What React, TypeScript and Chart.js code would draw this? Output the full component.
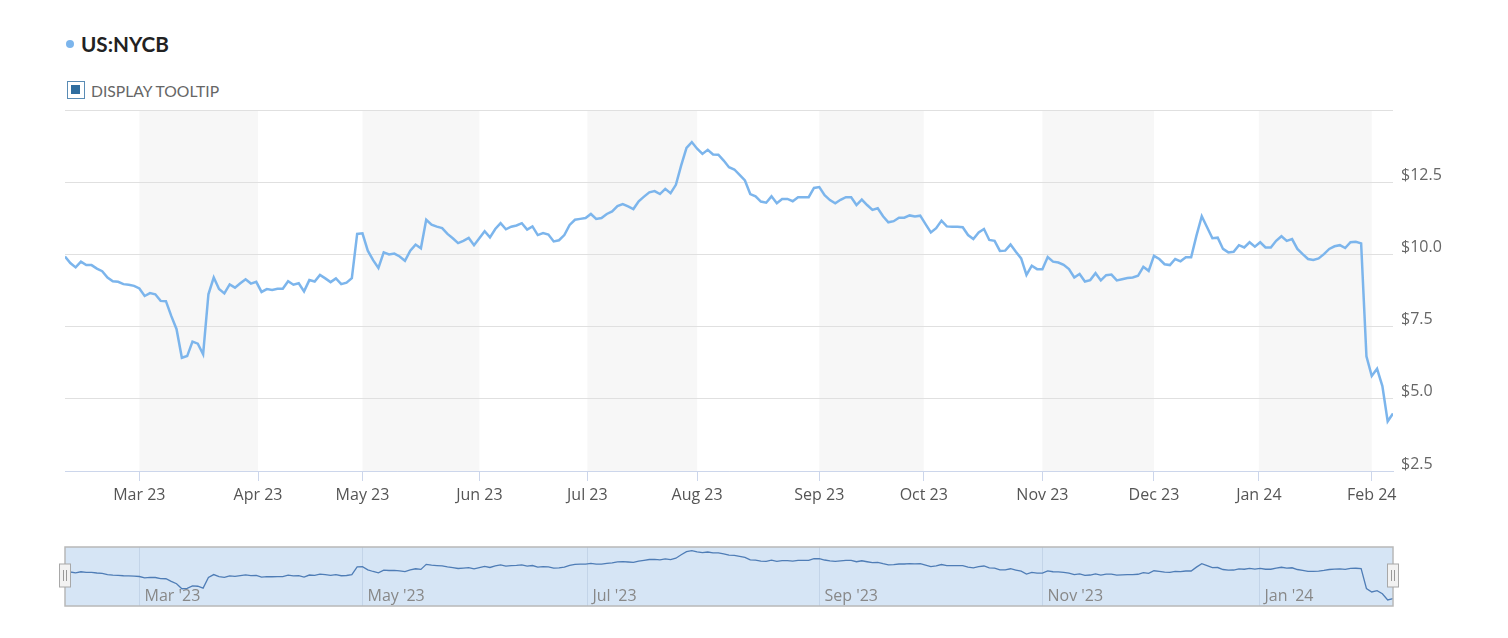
import React, { useEffect, useRef } from 'react';
import { Chart, registerables } from 'chart.js';

Chart.register(...registerables);

// ---- categories: NYSE trading days shown in the chart ----
const START_DATE = '2023-02-08';
const END_DATE = '2024-02-07';
const MARKET_HOLIDAYS = [
  '2023-02-20', '2023-04-07', '2023-05-29', '2023-06-19', '2023-07-04',
  '2023-09-04', '2023-11-23', '2023-12-25', '2024-01-01', '2024-01-15',
];

// ---- series values: US:NYCB daily close (one per trading day) ----
const closePrices = [
  9.93, 9.70, 9.55, 9.75, 9.63, 9.63, 9.51, 9.42, 9.20, 9.07,
  9.05, 8.97, 8.95, 8.91, 8.82, 8.56, 8.66, 8.62, 8.39, 8.38,
  7.87, 7.41, 6.42, 6.48, 6.98, 6.91, 6.54, 8.62, 9.20, 8.80,
  8.65, 8.96, 8.85, 9.00, 9.14, 8.99, 9.05, 8.70, 8.80, 8.77,
  8.81, 8.81, 9.07, 8.95, 9.00, 8.72, 9.11, 9.06, 9.29, 9.17,
  9.04, 9.17, 8.97, 9.02, 9.18, 10.71, 10.73, 10.13, 9.80, 9.53,
  10.07, 10.00, 10.03, 9.93, 9.78, 10.13, 10.34, 10.21, 11.20, 11.03,
  10.96, 10.91, 10.71, 10.56, 10.39, 10.47, 10.57, 10.32, 10.56, 10.80,
  10.59, 10.88, 11.08, 10.87, 10.96, 11.00, 11.08, 10.86, 10.97, 10.67,
  10.74, 10.69, 10.45, 10.49, 10.67, 11.02, 11.20, 11.23, 11.26, 11.40,
  11.23, 11.26, 11.40, 11.49, 11.67, 11.74, 11.66, 11.57, 11.84, 12.00,
  12.15, 12.19, 12.09, 12.27, 12.12, 12.41, 13.08, 13.69, 13.89, 13.66,
  13.48, 13.62, 13.46, 13.45, 13.25, 13.02, 12.94, 12.75, 12.56, 12.09,
  12.01, 11.83, 11.79, 12.01, 11.77, 11.92, 11.92, 11.84, 11.98, 11.98,
  11.98, 12.30, 12.33, 12.05, 11.88, 11.77, 11.89, 11.98, 11.98, 11.71,
  11.90, 11.71, 11.54, 11.60, 11.32, 11.11, 11.15, 11.27, 11.27, 11.35,
  11.31, 11.34, 11.05, 10.76, 10.91, 11.17, 10.97, 10.96, 10.96, 10.94,
  10.67, 10.53, 10.76, 10.88, 10.50, 10.47, 10.12, 10.13, 10.34, 10.09,
  9.86, 9.29, 9.61, 9.49, 9.49, 9.91, 9.75, 9.72, 9.64, 9.49,
  9.20, 9.32, 9.06, 9.11, 9.35, 9.10, 9.28, 9.30, 9.10, 9.14,
  9.18, 9.20, 9.26, 9.57, 9.43, 9.95, 9.84, 9.66, 9.63, 9.84,
  9.76, 9.90, 9.90, 10.65, 11.32, 10.94, 10.56, 10.58, 10.19, 10.07,
  10.09, 10.32, 10.24, 10.42, 10.27, 10.42, 10.24, 10.24, 10.47, 10.63,
  10.47, 10.53, 10.19, 10.01, 9.84, 9.81, 9.86, 10.01, 10.19, 10.28,
  10.32, 10.22, 10.42, 10.44, 10.38, 6.47, 5.79, 6.04, 5.44, 4.22,
  4.49,
];

// ---- tick labels ----
const monthTickDates = [
  '2023-03-01', '2023-04-01', '2023-05-01', '2023-06-01', '2023-07-01', '2023-08-01',
  '2023-09-01', '2023-10-01', '2023-11-01', '2023-12-01', '2024-01-01', '2024-02-01',
];
const monthTickLabels = [
  'Mar 23', 'Apr 23', 'May 23', 'Jun 23', 'Jul 23', 'Aug 23',
  'Sep 23', 'Oct 23', 'Nov 23', 'Dec 23', 'Jan 24', 'Feb 24',
];
const navTickDates = ['2023-03-01', '2023-05-01', '2023-07-01', '2023-09-01', '2023-11-01', '2024-01-01'];
const navTickLabels = ["Mar '23", "May '23", "Jul '23", "Sep '23", "Nov '23", "Jan '24"];
const yTickValues = [2.5, 5, 7.5, 10, 12.5, 15];

// ---- helpers ----
const dayNum = (iso: string) => Date.parse(iso + 'T00:00:00Z') / 86400000;

function buildTradingDays(): string[] {
  const out: string[] = [];
  const end = dayNum(END_DATE);
  for (let d = dayNum(START_DATE); d <= end; d++) {
    const date = new Date(d * 86400000);
    const wd = date.getUTCDay();
    const iso = date.toISOString().slice(0, 10);
    if (wd !== 0 && wd !== 6 && !MARKET_HOLIDAYS.includes(iso)) out.push(iso);
  }
  return out;
}

// ordinal (trading-day) position of a calendar date
function ordinalPos(days: string[], iso: string): number {
  const t = dayNum(iso);
  for (let i = 0; i < days.length; i++) {
    const di = dayNum(days[i]);
    if (di === t) return i;
    if (di > t) {
      if (i === 0) return 0;
      const p = dayNum(days[i - 1]);
      return i - 1 + (t - p) / (di - p);
    }
  }
  return days.length - 1;
}

const FONT = "'Open Sans', 'DejaVu Sans', sans-serif";
const LINE_COLOR = '#7cb5ec';

export default function App() {
  const mainRef = useRef<HTMLCanvasElement | null>(null);
  const navRef = useRef<HTMLCanvasElement | null>(null);

  useEffect(() => {
    const days = buildTradingDays();
    const n = Math.min(days.length, closePrices.length);
    const points = closePrices.slice(0, n).map((v, i) => ({ x: i, y: v }));
    const monthPos = monthTickDates.map((d) => ordinalPos(days, d));
    const navPos = navTickDates.map((d) => ordinalPos(days, d));

    const bandsPlugin = {
      id: 'bands',
      beforeDraw(chart: any) {
        const { ctx, chartArea: a, scales } = chart;
        const x = scales.x;
        ctx.save();
        ctx.fillStyle = '#f7f7f7';
        for (let k = 0; k + 1 < monthPos.length; k += 2) {
          const x0 = x.getPixelForValue(monthPos[k]);
          const x1 = x.getPixelForValue(monthPos[k + 1]);
          ctx.fillRect(x0, a.top, x1 - x0, a.bottom - a.top);
        }
        ctx.restore();
      },
    };

    const main = new Chart(mainRef.current as HTMLCanvasElement, {
      type: 'line',
      data: {
        datasets: [
          {
            data: points,
            borderColor: LINE_COLOR,
            borderWidth: 2.5,
            pointRadius: 0,
            tension: 0,
            fill: false,
          },
        ],
      },
      options: {
        animation: false,
        responsive: false,
        maintainAspectRatio: false,
        layout: { padding: { left: 65, top: 110, right: 0, bottom: 9 } },
        plugins: { legend: { display: false }, tooltip: { enabled: false } },
        scales: {
          x: {
            type: 'linear',
            min: 0,
            max: n - 1,
            afterBuildTicks: (s: any) => {
              s.ticks = monthPos.map((p) => ({ value: p }));
            },
            afterFit: (s: any) => {
              s.height = 40;
            },
            grid: { drawOnChartArea: false, drawTicks: true, tickLength: 10, color: '#ccd6eb' },
            border: { display: true, color: '#ccd6eb' },
            ticks: {
              autoSkip: false,
              maxRotation: 0,
              padding: 5,
              color: '#555',
              font: { family: FONT, size: 16 },
              callback: (_v: any, idx: number) => monthTickLabels[idx],
            },
          },
          y: {
            position: 'right',
            min: 2.5,
            max: 15,
            afterBuildTicks: (s: any) => {
              s.ticks = yTickValues.map((v) => ({ value: v }));
            },
            afterFit: (s: any) => {
              s.width = 115;
            },
            grid: { color: '#e0e0e0', drawTicks: false },
            border: { display: false },
            ticks: {
              padding: 8,
              labelOffset: -7,
              color: '#666',
              font: { family: FONT, size: 16 },
              callback: (v: any) => (v === 15 ? '' : '$' + Number(v).toFixed(1)),
            },
          },
        },
      } as any,
      plugins: [bandsPlugin],
    });

    const navPlugin = {
      id: 'navigator',
      beforeDatasetsDraw(chart: any) {
        const { ctx, chartArea: a, scales } = chart;
        const x = scales.x;
        ctx.save();
        ctx.fillStyle = '#d6e5f5';
        ctx.fillRect(a.left, a.top, a.right - a.left, a.bottom - a.top);
        ctx.strokeStyle = '#c3d4e8';
        ctx.lineWidth = 1;
        ctx.fillStyle = '#888';
        ctx.font = `16px ${FONT}`;
        ctx.textBaseline = 'middle';
        ctx.textAlign = 'left';
        navPos.forEach((p, i) => {
          const px = Math.round(x.getPixelForValue(p)) + 0.5;
          ctx.beginPath();
          ctx.moveTo(px, a.top);
          ctx.lineTo(px, a.bottom);
          ctx.stroke();
          ctx.fillText(navTickLabels[i], px + 5, a.bottom - 10);
        });
        ctx.restore();
      },
      afterDatasetsDraw(chart: any) {
        const { ctx, chartArea: a } = chart;
        ctx.save();
        ctx.strokeStyle = '#b8b8b8';
        ctx.lineWidth = 1.5;
        ctx.strokeRect(a.left, a.top, a.right - a.left, a.bottom - a.top);
        const hy0 = a.top + 17;
        const hh = 23;
        [a.left, a.right].forEach((cx) => {
          ctx.fillStyle = '#f2f2f2';
          ctx.strokeStyle = '#a8a8a8';
          ctx.lineWidth = 1;
          ctx.fillRect(cx - 5.5, hy0, 11, hh);
          ctx.strokeRect(cx - 5.5, hy0, 11, hh);
          ctx.strokeStyle = '#999';
          ctx.beginPath();
          ctx.moveTo(cx - 1.5, hy0 + 6);
          ctx.lineTo(cx - 1.5, hy0 + hh - 6);
          ctx.moveTo(cx + 1.5, hy0 + 6);
          ctx.lineTo(cx + 1.5, hy0 + hh - 6);
          ctx.stroke();
        });
        ctx.restore();
      },
    };

    const nav = new Chart(navRef.current as HTMLCanvasElement, {
      type: 'line',
      data: {
        datasets: [
          {
            data: points,
            borderColor: '#4f7db6',
            borderWidth: 1.3,
            pointRadius: 0,
            tension: 0,
            fill: false,
          },
        ],
      },
      options: {
        animation: false,
        responsive: false,
        maintainAspectRatio: false,
        layout: { padding: { left: 65, right: 115, top: 7, bottom: 14 } },
        plugins: { legend: { display: false }, tooltip: { enabled: false } },
        scales: {
          x: { type: 'linear', min: 0, max: n - 1, display: false },
          y: { min: 3.04, max: 14.6, display: false },
        },
      } as any,
      plugins: [navPlugin],
    });

    return () => {
      main.destroy();
      nav.destroy();
    };
  }, []);

  return (
    <div
      style={{
        position: 'fixed',
        left: 0,
        top: 0,
        width: 1508,
        height: 638,
        background: '#fff',
        overflow: 'hidden',
      }}
    >
      <div
        style={{
          position: 'absolute',
          left: 66,
          top: 40,
          width: 8,
          height: 8,
          borderRadius: '50%',
          background: LINE_COLOR,
        }}
      />
      <div
        style={{
          position: 'absolute',
          left: 81,
          top: 34,
          fontFamily: 'Lato, sans-serif',
          fontWeight: 700,
          fontSize: 20.7,
          lineHeight: '20px',
          color: '#222',
          whiteSpace: 'nowrap',
        }}
      >
        US:NYCB
      </div>
      <div
        style={{
          position: 'absolute',
          left: 67,
          top: 81,
          width: 18,
          height: 18,
          boxSizing: 'border-box',
          border: '1.5px solid #5a8cb5',
          background: '#fff',
        }}
      >
        <div
          style={{
            position: 'absolute',
            left: 3,
            top: 3,
            width: 9,
            height: 9,
            background: '#2f6d9f',
          }}
        />
      </div>
      <div
        style={{
          position: 'absolute',
          left: 91,
          top: 82,
          fontFamily: 'Lato, sans-serif',
          fontSize: 15.7,
          lineHeight: '18px',
          color: '#666',
          whiteSpace: 'nowrap',
        }}
      >
        DISPLAY TOOLTIP
      </div>
      <canvas
        ref={mainRef}
        width={1508}
        height={520}
        style={{ position: 'absolute', left: 0, top: 0, width: 1508, height: 520 }}
      />
      <canvas
        ref={navRef}
        width={1508}
        height={80}
        style={{ position: 'absolute', left: 0, top: 540, width: 1508, height: 80 }}
      />
    </div>
  );
}
